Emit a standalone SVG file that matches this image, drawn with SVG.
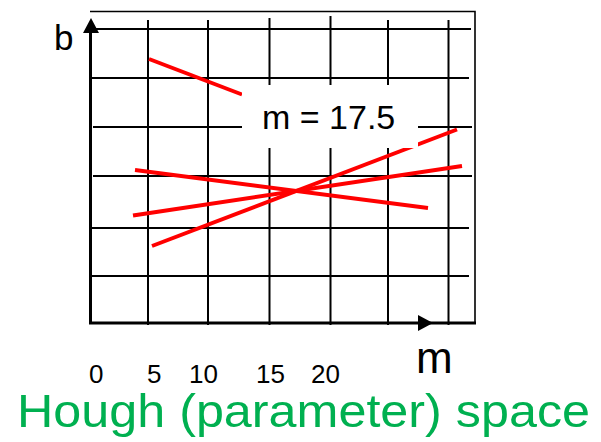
<svg xmlns="http://www.w3.org/2000/svg" width="601" height="442" viewBox="0 0 601 442">
<style>
.grid{stroke:#000;stroke-width:2;fill:none}
.frame{stroke:#000;stroke-width:1.6;fill:none}
.axis{stroke:#000;stroke-width:3;fill:none}
.red{stroke:#ff0000;stroke-width:4;stroke-linecap:butt;fill:none}
.t{font-family:"Liberation Sans",Arial,sans-serif;fill:#000}
.title{font-family:"Liberation Sans",Arial,sans-serif;fill:#00b050}
</style>
<rect width="601" height="442" fill="#fff"/>
<g id="grid">
<line class="grid" x1="90" y1="29" x2="471" y2="29"/>
<line class="grid" x1="90" y1="78" x2="469" y2="78"/>
<line class="grid" x1="93" y1="127" x2="472" y2="127"/>
<line class="grid" x1="93" y1="176" x2="472" y2="176"/>
<line class="grid" x1="90" y1="228" x2="469" y2="228"/>
<line class="grid" x1="90" y1="276" x2="469" y2="276"/>
<line class="grid" x1="148" y1="20" x2="148" y2="325"/>
<line class="grid" x1="208" y1="20" x2="208" y2="325"/>
<line class="grid" x1="269.5" y1="18" x2="269.5" y2="325"/>
<line class="grid" x1="330.5" y1="16" x2="330.5" y2="325"/>
<line class="grid" x1="388" y1="20" x2="388" y2="325"/>
<line class="grid" x1="448.5" y1="20" x2="448.5" y2="325"/>
<polyline class="frame" points="90,11.5 475,11.5 475,323"/>
</g>
<g id="connectors">
<line class="red" x1="149" y1="59" x2="242" y2="94.5"/>
<line class="red" x1="152" y1="246" x2="457" y2="129.5"/>
<line class="red" x1="133" y1="215.5" x2="462" y2="166"/>
<line class="red" x1="135" y1="170" x2="428" y2="208"/>
</g>
<g id="label-m175">
<rect x="242" y="85" width="176" height="63" fill="#fff"/>
<text class="t" x="262" y="128.5" font-size="34">m = 17.5</text>
</g>
<g id="axes">
<line class="axis" x1="90.5" y1="323" x2="90.5" y2="30"/>
<polygon points="91,18 83,33 99,33" fill="#000"/>
<line class="axis" x1="89" y1="323" x2="476" y2="323"/>
<polygon points="433,323 418,315 418,331" fill="#000"/>
</g>
<g id="axis-labels">
<text class="t" x="54" y="50" font-size="35">b</text>
<text class="t" x="416" y="373" font-size="44">m</text>
<text class="t" x="89" y="383" font-size="26">0</text>
<text class="t" x="147" y="383" font-size="26">5</text>
<text class="t" x="189" y="383" font-size="26">10</text>
<text class="t" x="256" y="383" font-size="26">15</text>
<text class="t" x="311" y="383" font-size="26">20</text>
</g>
<g id="title">
<text class="title" x="17" y="427" font-size="46" textLength="573" lengthAdjust="spacingAndGlyphs">Hough (parameter) space</text>
</g>
</svg>
